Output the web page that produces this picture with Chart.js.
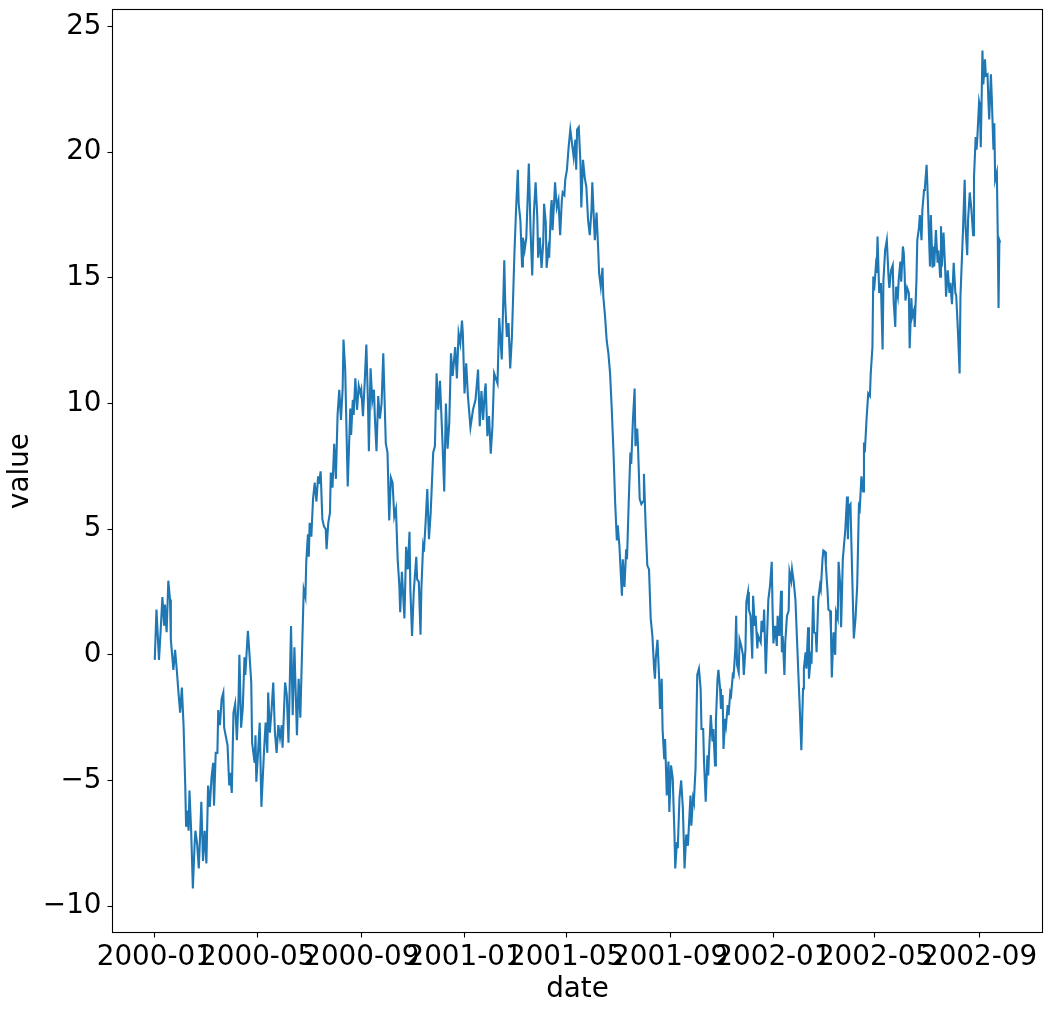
<!DOCTYPE html>
<html>
<head>
<meta charset="utf-8">
<script src="https://cdn.jsdelivr.net/npm/chart.js@4.4.1/dist/chart.umd.min.js"></script>
<style>
  html, body { margin: 0; padding: 0; background: #fff; }
  canvas { display: block; }
</style>
</head>
<body>
<canvas id="chart" width="1052" height="1014"></canvas>
<script>
// day index from 2000-01-01
const days = [
  0, 2, 5, 7, 9, 11, 12, 14, 16, 18, 19, 22, 24, 26, 28, 30, 32, 34, 36, 37, 38, 40, 41, 43, 45, 47, 48, 50, 52, 54,
  55, 57, 59, 61, 63, 65, 67, 69, 70, 72, 74, 75, 77, 79, 81, 82, 86, 88, 89, 91, 93, 95, 97, 99, 100, 102, 104, 106, 107, 110,
  111, 114, 115, 118, 119, 120, 122, 124, 126, 129, 131, 133, 134, 136, 138, 140, 142, 144, 146, 148, 150, 151, 154, 156, 158, 161, 163, 165, 168, 170,
  172, 174, 176, 178, 179, 181, 182, 183, 185, 187, 189, 191, 193, 194, 196, 198, 200, 202, 203, 205, 207, 208, 210, 212, 214, 216, 218, 220, 222, 223,
  225, 228, 231, 232, 234, 235, 237, 239, 241, 243, 244, 246, 248, 250, 252, 253, 255, 257, 259, 260, 262, 264, 266, 268, 270, 273, 275, 277, 279, 281,
  283, 285, 287, 289, 290, 292, 295, 297, 299, 301, 302, 304, 306, 309, 310, 312, 314, 315, 317, 318, 320, 322, 324, 326, 329, 331, 333, 335, 337, 340,
  342, 344, 346, 348, 350, 352, 355, 357, 359, 361, 363, 364, 366, 368, 370, 373, 376, 379, 382, 384, 386, 388, 390, 391, 393, 395, 397, 399, 401, 403,
  405, 407, 410, 413, 414, 416, 418, 420, 422, 425, 427, 429, 430, 432, 434, 435, 437, 439, 442, 444, 446, 448, 450, 452, 453, 455, 457, 459, 460, 462,
  463, 465, 466, 468, 469, 470, 472, 473, 475, 477, 479, 481, 482, 484, 485, 487, 489, 491, 493, 495, 497, 498, 499, 501, 503, 504, 506, 508, 510, 512,
  514, 516, 517, 519, 520, 522, 524, 525, 527, 529, 530, 532, 534, 536, 538, 540, 542, 544, 546, 547, 549, 552, 553, 555, 557, 558, 560, 562, 563, 565,
  567, 568, 570, 571, 573, 575, 577, 578, 580, 582, 584, 586, 588, 590, 591, 592, 594, 596, 597, 599, 600, 602, 603, 605, 607, 608, 610, 612, 614, 615,
  617, 618, 620, 622, 624, 625, 626, 628, 630, 631, 633, 634, 636, 637, 639, 640, 641, 643, 645, 646, 648, 649, 651, 653, 654, 655, 657, 659, 660, 662,
  663, 665, 666, 668, 669, 671, 672, 674, 675, 677, 678, 680, 681, 683, 684, 686, 687, 688, 690, 691, 693, 695, 696, 698, 699, 701, 702, 704, 706, 707,
  709, 710, 712, 713, 716, 717, 719, 720, 722, 723, 725, 727, 729, 730, 731, 733, 735, 736, 738, 740, 741, 742, 744, 745, 747, 749, 750, 752, 753,
  755, 757, 759, 761, 762, 764, 766, 767, 769, 770, 772, 773, 775, 776, 778, 779, 781, 782, 784, 786, 787, 789, 790, 792, 793, 795, 796, 798, 799, 800,
  802, 804, 805, 807, 808, 810, 811, 813, 814, 816, 818, 819, 820, 822, 824, 826, 828, 830, 832, 833, 835, 837, 838, 839, 841, 843, 845, 846, 848, 849,
  850, 852, 853, 854, 856, 858, 860, 861, 863, 865, 867, 868, 870, 871, 872, 873, 875, 876, 878, 879, 881, 882, 884, 885, 886, 887, 889, 891, 892, 894,
  895, 897, 898, 900, 901, 903, 904, 906, 907, 909, 910, 912, 913, 915, 916, 917, 919, 920, 921, 923, 925, 926, 928, 929, 930, 932, 934, 935, 937, 939,
  940, 942, 944, 946, 947, 949, 951, 952, 955, 957, 958, 960, 961, 963, 965, 967, 968, 970, 971, 972, 974, 975, 976, 977, 978, 979, 981, 982, 984, 985,
  986, 988, 989, 991, 992, 993, 995, 996, 997, 998, 999
];

const values = [
  -0.2, 1.8, -0.2, 1.0, 2.3, 1.2, 2.0, 0.9, 2.95, 2.2, 0.6, -0.6, 0.2, -0.6, -1.5, -2.3, -1.3, -2.8, -5.2, -6.8, -6.2, -7.0, -5.4, -7.0, -9.3, -7.6, -7.0, -7.5, -8.5, -6.8,
  -5.85, -8.2, -7.0, -8.3, -5.2, -6.05, -4.9, -4.3, -6.0, -3.9, -3.9, -2.2, -2.8, -1.75, -1.5, -2.9, -3.6, -5.2, -4.7, -5.5, -2.3, -1.95, -3.4, -1.75, 0.0, -2.9, -2.1, -0.1, -0.8, 0.95,
  0.5, -1.1, -3.5, -4.3, -3.2, -5.05, -3.9, -2.7, -6.05, -3.9, -2.7, -3.9, -1.5, -3.1, -2.2, -1.1, -3.1, -3.9, -2.8, -3.3, -2.8, -3.7, -1.1, -1.6, -3.5, 1.15, -2.4, 0.3, -3.2, -0.95,
  -2.5, 0.1, 2.6, 2.3, 3.7, 4.8, 3.9, 5.25, 4.7, 6.2, 6.85, 6.1, 7.1, 6.8, 7.3, 5.4, 5.1, 5.0, 4.2, 5.25, 5.65, 7.25, 6.65, 8.4, 7.0, 9.55, 10.55, 9.35, 10.6, 12.55,
  11.35, 6.7, 9.8, 8.75, 10.15, 9.55, 11.0, 9.75, 10.7, 10.4, 10.55, 9.5, 10.8, 12.35, 9.9, 8.1, 11.4, 10.1, 10.55, 9.5, 8.1, 10.3, 9.4, 10.0, 12.0, 8.4, 8.05, 5.35, 7.05, 6.85,
  5.5, 5.8, 3.8, 2.75, 1.7, 3.3, 1.45, 4.3, 3.4, 4.9, 2.6, 0.75, 2.5, 3.9, 3.0, 2.9, 0.8, 2.6, 4.3, 4.1, 5.25, 6.6, 4.6, 5.65, 8.05, 8.3, 11.2, 9.75, 10.9, 8.45,
  6.5, 10.0, 8.2, 9.25, 12.0, 11.1, 12.25, 11.0, 12.8, 12.4, 13.3, 12.8, 10.4, 11.6, 10.3, 9.05, 9.75, 10.15, 11.35, 9.1, 10.5, 9.35, 10.5, 10.8, 8.7, 9.5, 8.0, 9.1, 11.2, 11.0,
  10.8, 13.4, 11.75, 15.7, 14.1, 12.65, 13.2, 11.4, 12.65, 16.0, 17.8, 19.3, 17.95, 17.3, 15.45, 16.6, 16.1, 16.6, 19.55, 16.9, 15.1, 17.6, 18.8, 17.4, 15.8, 16.6, 15.4, 16.4, 17.95, 17.2,
  15.4, 16.1, 15.8, 17.7, 18.1, 16.9, 18.1, 18.8, 17.8, 18.1, 16.7, 18.1, 18.4, 18.3, 18.9, 19.3, 20.2, 20.9, 20.35, 19.8, 20.5, 19.3, 20.9, 21.0, 19.55, 17.8, 19.7, 19.0, 18.6, 17.3,
  16.7, 17.7, 18.8, 17.2, 16.5, 17.6, 16.1, 15.2, 14.65, 15.4, 14.25, 13.5, 12.5, 12.0, 11.2, 9.75, 8.1, 6.05, 4.55, 5.15, 4.35, 2.35, 3.8, 2.7, 4.2, 3.8, 6.05, 8.05, 7.6, 9.35,
  10.6, 8.3, 9.0, 8.3, 6.2, 6.0, 6.1, 7.2, 5.15, 3.55, 3.4, 1.45, 0.75, -0.55, -0.95, -0.15, 0.6, -0.95, -2.15, -0.95, -2.95, -4.15, -3.35, -5.6, -4.25, -6.25, -4.4, -4.9, -7.05, -8.5,
  -7.45, -7.7, -5.7, -5.0, -6.1, -7.3, -8.5, -7.15, -7.6, -6.9, -5.6, -6.8, -5.7, -5.85, -4.5, -2.65, -0.8, -0.55, -1.35, -2.95, -2.95, -4.25, -5.85, -4.0, -4.8, -3.85, -2.4, -3.45, -2.95, -4.4,
  -2.65, -0.95, -0.6, -1.35, -2.15, -1.6, -3.75, -2.55, -2.8, -2.0, -2.4, -1.5, -1.6, -0.8, -0.85, 0.25, 1.55, -0.4, -0.7, 0.6, 0.35, 0.0, -0.8, 0.25, 2.1, 2.5, 1.8, 1.55, -0.15, 2.35,
  1.15, 1.55, 0.25, 0.75, 0.5, 1.35, 0.9, 1.8, -0.75, 0.25, 2.2, 2.75, 3.7, 1.8, 0.45, 1.15, 0.35, 1.55, 0.75, 2.55, 0.1, 0.75, -0.8, 0.5, 1.55, 1.75, 3.3, 2.95, 3.4,
  2.9, 2.2, 0.5, -1.2, -2.0, -3.8, -1.35, -0.55, 0.1, -0.55, 1.1, -0.95, -0.15, -0.35, 2.35, 0.9, 0.85, 0.1, 2.2, 2.75, 2.6, 3.8, 4.15, 4.1, 3.55, 2.5, 1.8, 1.75, 0.9, -0.9,
  0.9, 0.0, 1.7, 1.45, 3.7, 2.75, 1.1, 3.8, 4.2, 5.0, 6.3, 4.6, 5.9, 6.0, 3.3, 0.65, 1.45, 2.75, 5.9, 5.8, 7.1, 6.5, 8.45, 8.05, 9.35, 10.4, 10.3, 11.2, 12.25, 15.05,
  14.5, 15.45, 15.2, 16.65, 14.4, 14.8, 12.15, 14.9, 16.1, 16.5, 15.05, 14.6, 15.3, 15.3, 15.5, 14.1, 13.05, 14.65, 14.25, 14.9, 15.65, 14.85, 16.25, 16.0, 15.2, 14.1, 14.6, 14.4, 12.2, 14.2,
  13.45, 13.7, 13.05, 14.9, 16.5, 17.0, 17.5, 16.5, 17.7, 18.5, 18.6, 19.5, 18.6, 16.5, 15.45, 17.5, 15.4, 16.25, 15.45, 16.9, 15.6, 16.1, 15.05, 17.05, 15.45, 16.8, 15.3, 14.25, 15.3, 14.4,
  14.8, 13.95, 15.6, 14.4, 14.3, 12.9, 11.2, 14.25, 16.9, 18.9, 17.05, 15.9, 17.3, 18.4, 17.7, 16.7, 19.0, 20.6, 20.1, 20.6, 22.0, 21.8, 20.2, 22.05, 24.05, 22.7, 23.7, 23.05, 23.1, 22.05,
  21.3, 23.1, 22.2, 20.1, 21.15, 18.9, 19.2, 16.9, 13.8, 16.5, 16.4
];

// tick positions (days from 2000-01-01) and their labels
const xTickDays = [0, 121, 244, 366, 486, 609, 731, 851, 974];
const xTickLabels = ['2000-01', '2000-05', '2000-09', '2001-01', '2001-05', '2001-09', '2002-01', '2002-05', '2002-09'];
const yTicks = [-10, -5, 0, 5, 10, 15, 20, 25];

const FONT = { family: "'DejaVu Sans', sans-serif", size: 27.8 };

const framePlugin = {
  id: 'frame',
  afterDraw(chart) {
    const { ctx, chartArea: a } = chart;
    ctx.save();
    ctx.strokeStyle = '#000';
    ctx.lineWidth = 1.1;
    ctx.strokeRect(a.left, a.top, a.right - a.left, a.bottom - a.top);
    ctx.restore();
  }
};

const points = days.map((d, i) => ({ x: d, y: values[i] }));

new Chart(document.getElementById('chart').getContext('2d'), {
  type: 'line',
  data: {
    datasets: [{
      data: points,
      borderColor: '#1f77b4',
      borderWidth: 2.1,
      pointRadius: 0,
      tension: 0,
      fill: false
    }]
  },
  options: {
    responsive: false,
    animation: false,
    devicePixelRatio: 1,
    layout: { padding: { top: 9.5, right: 9.5, left: 0, bottom: 0 } },
    plugins: { legend: { display: false }, tooltip: { enabled: false } },
    scales: {
      x: {
        type: 'linear',
        min: -49.95,
        max: 1048.95,
        afterFit(scale) {
          scale.height = 81.5;
          scale.paddingLeft = 0;
          scale.paddingRight = 0;
        },
        afterBuildTicks(scale) { scale.ticks = xTickDays.map(v => ({ value: v })); },
        border: { display: false },
        grid: { drawOnChartArea: false, drawTicks: true, tickLength: 5, tickColor: '#000', tickWidth: 1.1 },
        ticks: {
          autoSkip: false, maxRotation: 0, minRotation: 0, padding: 4,
          color: '#000', font: FONT,
          callback: (v) => xTickLabels[xTickDays.indexOf(v)]
        },
        title: { display: true, text: 'date', color: '#000', font: FONT, padding: { top: 0, bottom: 8 } }
      },
      y: {
        min: -11.05,
        max: 25.68,
        afterFit(scale) {
          scale.width = 112.5;
          scale.paddingTop = 0;
          scale.paddingBottom = 0;
        },
        afterBuildTicks(scale) { scale.ticks = yTicks.map(v => ({ value: v })); },
        border: { display: false },
        grid: { drawOnChartArea: false, drawTicks: true, tickLength: 5, tickColor: '#000', tickWidth: 1.1 },
        ticks: {
          padding: 6, color: '#000', font: FONT,
          callback: (v) => (v < 0 ? '\u2212' + Math.abs(v) : String(v))
        },
        title: { display: true, text: 'value', color: '#000', font: FONT, padding: { top: 4, bottom: 4 } }
      }
    }
  },
  plugins: [framePlugin]
});
</script>
</body>
</html>
